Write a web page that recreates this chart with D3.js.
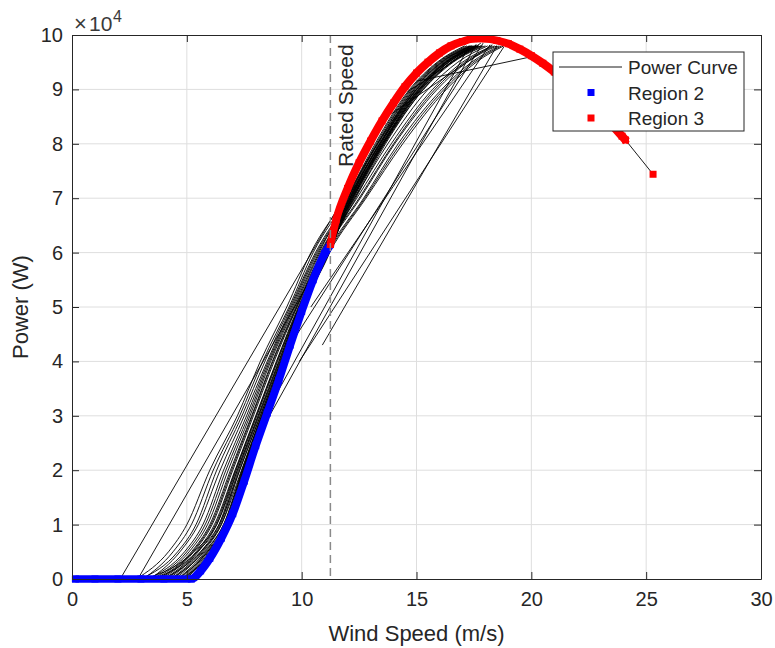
<!DOCTYPE html>
<html>
<head>
<meta charset="utf-8">
<script src="https://cdn.jsdelivr.net/npm/d3@7"></script>
<style>
  body { margin: 0; background: #fff; }
  svg { display: block; font-family: "Liberation Sans", Arial, sans-serif; }
</style>
</head>
<body>
<svg id="chart" width="775" height="648"></svg>
<script>
// values, power is in units of 1e4 W
const xTicks = [0, 5, 10, 15, 20, 25, 30];
const yTicks = [0, 1, 2, 3, 4, 5, 6, 7, 8, 9, 10];
const ratedSpeed = 11.25;

const region2 = [[0.15, 0], [1, 0], [2, 0], [3, 0], [4, 0], [5.2, 0], [5.6, 0.15], [6.0, 0.38],
  [6.5, 0.75], [7.0, 1.2], [7.5, 1.8], [8.0, 2.45], [8.5, 3.05], [9.0, 3.65], [9.5, 4.3],
  [10.0, 4.92], [10.5, 5.5], [11.0, 5.98], [11.25, 6.15]];

const region3 = [[11.25, 6.15], [11.5, 6.6], [12.0, 7.18], [12.5, 7.65], [13.0, 8.05], [13.5, 8.42],
  [14.0, 8.75], [14.5, 9.05], [15.0, 9.3], [15.5, 9.5], [16.0, 9.67], [16.5, 9.8], [17.0, 9.88],
  [17.5, 9.93], [18.0, 9.93], [18.5, 9.9], [19.0, 9.84], [19.5, 9.74], [20.0, 9.62], [20.5, 9.48],
  [21.0, 9.32], [21.5, 9.14], [22.0, 8.95], [22.5, 8.75], [23.0, 8.55], [23.5, 8.35],
  [23.95, 8.14], [24.1, 8.07]];
const region3Tail = [[25.3, 7.44]];

// power curve traces: wind speed where each trace crosses these power levels
const traceLevels = [0, 0.5, 1, 2, 3, 4, 5, 6, 7, 8, 9, 9.5, 9.8];
const traceSpeeds = [
  [2.8, 4.2, 5.0, 6.0, 7.2, 8.2, 9.35, 10.4, 11.9, 13.3, 15.0, 16.3, 17.6],
  [3.0, 4.6, 5.4, 6.3, 7.4, 8.4, 9.5, 10.6, 12.1, 13.5, 15.2, 16.5, 17.8],
  [3.3, 4.9, 5.7, 6.6, 7.6, 8.55, 9.6, 10.7, 12.2, 13.6, 15.3, 16.6, 18.0],
  [3.6, 5.1, 5.9, 6.8, 7.75, 8.65, 9.7, 10.8, 12.3, 13.75, 15.5, 16.8, 18.1],
  [3.9, 5.3, 6.1, 7.0, 7.9, 8.8, 9.8, 10.9, 12.4, 13.9, 15.7, 17.0, 18.3],
  [4.2, 5.5, 6.3, 7.15, 8.05, 8.95, 9.9, 11.0, 12.55, 14.05, 15.9, 17.2, 18.5],
  [4.5, 5.7, 6.5, 7.3, 8.2, 9.1, 10.0, 11.1, 12.7, 14.2, 16.1, 17.4, 18.6],
  [4.8, 5.9, 6.7, 7.45, 8.3, 9.2, 10.05, 11.2, 12.8, 14.4, 16.3, 17.6, 18.8],
  [3.4, 4.7, 5.5, 6.45, 7.5, 8.5, 9.55, 10.65, 12.15, 13.55, 15.25, 16.55, 17.9],
  [4.0, 5.4, 6.2, 7.1, 8.0, 8.9, 9.85, 10.95, 12.5, 14.0, 15.8, 17.1, 18.4],
  [3.1, 4.4, 5.2, 6.15, 7.3, 8.3, 9.45, 10.5, 12.0, 13.4, 15.1, 16.4, 17.7],
  [4.6, 5.8, 6.6, 7.4, 8.25, 9.15, 10.02, 11.15, 12.75, 14.3, 16.2, 17.5, 18.7],
  [4.9, 6.0, 6.75, 7.5, 8.35, 9.22, 10.06, 11.22, 12.1, 13.3, 14.8, 16.0, 17.3],
  [4.7, 5.85, 6.65, 7.42, 8.28, 9.18, 10.03, 11.18, 12.05, 13.25, 14.75, 15.95, 17.2],
  [4.4, 5.65, 6.45, 7.25, 8.15, 9.05, 9.95, 11.05, 12.0, 13.2, 14.7, 15.9, 17.1],
  [4.1, 5.45, 6.25, 7.12, 8.02, 8.92, 9.88, 10.98, 12.1, 13.35, 14.9, 16.1, 17.4],
  [3.7, 5.2, 6.0, 6.9, 7.82, 8.72, 9.75, 10.85, 12.2, 13.45, 15.0, 16.2, 17.5],
  [3.5, 5.0, 5.8, 6.7, 7.68, 8.6, 9.65, 10.75, 12.05, 13.4, 14.95, 16.15, 17.45],
  [4.3, 5.6, 6.4, 7.2, 8.1, 9.0, 9.92, 11.02, 12.2, 13.5, 15.1, 16.3, 17.6],
  [3.8, 5.25, 6.05, 6.95, 7.85, 8.75, 9.78, 10.88, 12.0, 13.3, 14.85, 16.05, 17.35],
  [4.85, 5.95, 6.72, 7.48, 8.32, 9.2, 10.04, 11.1, 12.3, 13.6, 15.2, 16.4, 17.7],
  [4.95, 6.05, 6.8, 7.52, 8.38, 9.24, 10.08, 11.2, 12.15, 13.4, 14.9, 16.1, 17.4],
  [4.6, 5.9, 6.7, 7.5, 8.36, 9.22, 10.05, 11.15, 12.25, 13.55, 15.15, 16.35, 17.65],
  [4.3, 5.75, 6.6, 7.45, 8.3, 9.17, 10.0, 11.08, 12.35, 13.65, 15.3, 16.5, 17.8],
  [4.0, 5.6, 6.5, 7.38, 8.25, 9.12, 9.97, 11.05, 12.15, 13.45, 15.05, 16.25, 17.55],
  [3.6, 5.45, 6.4, 7.3, 8.2, 9.08, 9.93, 11.0, 12.25, 13.55, 15.15, 16.4, 17.7],
  [3.2, 5.3, 6.3, 7.2, 8.12, 9.02, 9.9, 10.95, 12.1, 13.4, 15.0, 16.25, 17.55],
  [4.75, 6.1, 6.85, 7.55, 8.4, 9.25, 10.08, 11.18, 12.2, 13.5, 15.1, 16.3, 17.6]
];

// straight jumps between samples far apart
const jumpLines = [
  [[2.1, 0], [12.1, 7.2]],
  [[2.87, 0], [10.3, 5.45]],
  [[8.6, 3.0], [17.6, 9.83]],
  [[8.9, 3.4], [17.3, 9.8]],
  [[9.5, 4.3], [17.9, 9.85]],
  [[9.9, 4.0], [18.8, 9.78]],
  [[10.4, 5.0], [18.2, 9.82]],
  [[10.9, 4.3], [18.5, 9.8]],
  [[20.0, 9.6], [15.0, 9.15]],
  [[17.8, 9.85], [14.6, 8.95]],
  [[18.3, 9.82], [13.9, 8.55]]
];
const tailLine = [[23.95, 8.14], [24.1, 8.07], [25.3, 7.44]];

const pLeft = 72, pRight = 761, pTop = 35, pBottom = 579;
const axisColor = "#262626";
const markerSize = 7;

const svg = d3.select("#chart");
const x = d3.scaleLinear([0, 30], [pLeft, pRight]);
const y = d3.scaleLinear([0, 10], [pBottom, pTop]);

// grid
svg.append("g").selectAll("line").data(xTicks.slice(1, -1)).enter().append("line")
  .attr("x1", d => x(d)).attr("x2", d => x(d)).attr("y1", pTop).attr("y2", pBottom)
  .attr("stroke", "#dedede").attr("stroke-width", 1);
svg.append("g").selectAll("line").data(yTicks.slice(1, -1)).enter().append("line")
  .attr("x1", pLeft).attr("x2", pRight).attr("y1", d => y(d)).attr("y2", d => y(d))
  .attr("stroke", "#dedede").attr("stroke-width", 1);

const line = d3.line().x(d => x(d[0])).y(d => y(d[1]));
const smooth = d3.line().x(d => x(d[0])).y(d => y(d[1])).curve(d3.curveMonotoneX);

// power curve
const traces = traceSpeeds.map(row => row.map((v, i) => [v, traceLevels[i]]));
svg.append("g").selectAll("path").data(traces).enter().append("path")
  .attr("d", smooth).attr("fill", "none").attr("stroke", "#000").attr("stroke-width", 0.9);
svg.append("g").selectAll("path").data(jumpLines).enter().append("path")
  .attr("d", line).attr("fill", "none").attr("stroke", "#000").attr("stroke-width", 0.9);
svg.append("path").datum(tailLine).attr("d", line)
  .attr("fill", "none").attr("stroke", "#000").attr("stroke-width", 0.9);

// regions: dense square markers, drawn as the path swept by a square
function region(data, color, tail) {
  const h = markerSize / 4;
  const offsets = [[0, 0], [-h, -h], [h, -h], [-h, h], [h, h]];
  const g = svg.append("g");
  g.selectAll("path").data(offsets).enter().append("path")
    .attr("transform", d => `translate(${d[0]},${d[1]})`)
    .attr("d", smooth(data))
    .attr("fill", "none").attr("stroke", color).attr("stroke-width", markerSize / 2)
    .attr("stroke-linejoin", "round").attr("stroke-linecap", "square");
  g.selectAll("rect").data(data.concat(tail)).enter().append("rect")
    .attr("x", d => x(d[0]) - markerSize / 2).attr("y", d => y(d[1]) - markerSize / 2)
    .attr("width", markerSize).attr("height", markerSize).attr("fill", color);
}
region(region2, "#0000ff", []);
region(region3, "#ff0000", region3Tail);

// rated speed
svg.append("line")
  .attr("x1", x(ratedSpeed)).attr("x2", x(ratedSpeed)).attr("y1", pTop).attr("y2", pBottom)
  .attr("stroke", "#8a8a8a").attr("stroke-width", 1.5).attr("stroke-dasharray", "8,5");
svg.append("text")
  .attr("transform", `translate(${x(ratedSpeed) + 23},${167}) rotate(-90)`)
  .attr("font-size", "21px").attr("fill", axisColor)
  .text("Rated Speed");

// axes
function styleAxis(g) {
  g.selectAll("path").attr("stroke", axisColor);
  g.selectAll("line").attr("stroke", axisColor);
  g.selectAll("text").attr("fill", axisColor).attr("font-size", "20px")
    .attr("font-family", "Liberation Sans, Arial, sans-serif");
}
svg.append("g").attr("transform", `translate(0,${pBottom})`)
  .call(d3.axisBottom(x).tickValues(xTicks).tickSize(-7).tickSizeOuter(0).tickPadding(13))
  .call(styleAxis);
svg.append("g").attr("transform", `translate(${pLeft},0)`)
  .call(d3.axisLeft(y).tickValues(yTicks).tickSize(-7).tickSizeOuter(0).tickPadding(9))
  .call(styleAxis);
svg.append("g").attr("transform", `translate(0,${pTop})`)
  .call(d3.axisTop(x).tickValues(xTicks).tickSize(-7).tickSizeOuter(0).tickFormat(""))
  .call(styleAxis);
svg.append("g").attr("transform", `translate(${pRight},0)`)
  .call(d3.axisRight(y).tickValues(yTicks).tickSize(-7).tickSizeOuter(0).tickFormat(""))
  .call(styleAxis);

// exponent
const expo = svg.append("text").attr("y", 30.5).attr("fill", "#3a3a3a");
expo.append("tspan").attr("x", 74).attr("font-size", "22px").text("\u00d7");
expo.append("tspan").attr("x", 89).attr("font-size", "21px").text("10");
expo.append("tspan").attr("x", 113).attr("dy", -9).attr("font-size", "16px").text("4");

// axis labels
svg.append("text").attr("x", (pLeft + pRight) / 2).attr("y", 641)
  .attr("text-anchor", "middle").attr("font-size", "22px").attr("fill", axisColor)
  .text("Wind Speed (m/s)");
svg.append("text").attr("transform", `translate(28,${(pTop + pBottom) / 2}) rotate(-90)`)
  .attr("text-anchor", "middle").attr("font-size", "22px").attr("fill", axisColor)
  .text("Power (W)");

// legend
const lg = svg.append("g").attr("transform", "translate(553,52)");
lg.append("rect").attr("width", 191).attr("height", 79)
  .attr("fill", "#fff").attr("stroke", axisColor).attr("stroke-width", 1);
lg.append("line").attr("x1", 6).attr("x2", 69).attr("y1", 15).attr("y2", 15)
  .attr("stroke", "#000").attr("stroke-width", 0.9);
lg.append("rect").attr("x", 34.5).attr("y", 37).attr("width", 7).attr("height", 7).attr("fill", "#0000ff");
lg.append("rect").attr("x", 34.5).attr("y", 62.5).attr("width", 7).attr("height", 7).attr("fill", "#ff0000");
const labels = ["Power Curve", "Region 2", "Region 3"];
lg.selectAll("text.lab").data(labels).enter().append("text")
  .attr("class", "lab").attr("x", 75).attr("y", (d, i) => 22 + i * 25.6)
  .attr("font-size", "19px").attr("fill", axisColor).text(d => d);
</script>
</body>
</html>
